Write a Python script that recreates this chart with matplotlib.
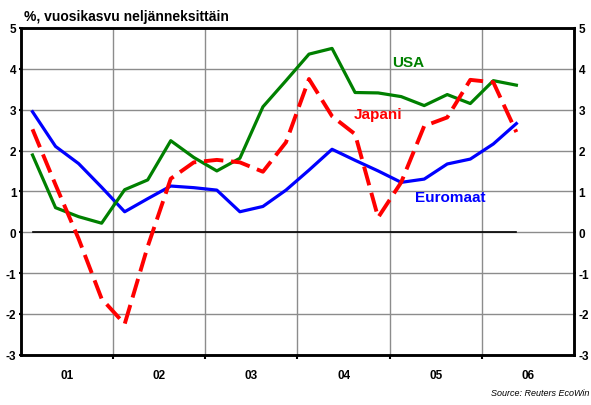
import matplotlib.pyplot as plt
from matplotlib.ticker import FixedLocator, NullFormatter

plt.rcParams['font.family'] = ['Liberation Sans', 'DejaVu Sans']
plt.rcParams['axes.unicode_minus'] = False

# quarterly data, 2001 Q1 .. 2006 Q2
quarters = [2001 + (i + 0.5) / 4 for i in range(22)]
euromaat = [2.95, 2.10, 1.68, 1.10, 0.50, 0.82, 1.13, 1.09, 1.03, 0.50, 0.63, 1.03,
            1.52, 2.03, 1.76, 1.50, 1.22, 1.30, 1.67, 1.79, 2.16, 2.66]
usa = [1.89, 0.60, 0.38, 0.22, 1.04, 1.28, 2.24, 1.83, 1.50, 1.81, 3.07, 3.71,
       4.36, 4.50, 3.42, 3.41, 3.32, 3.10, 3.37, 3.15, 3.71, 3.60]
japani = [2.52, 1.16, -0.16, -1.63, -2.25, -0.35, 1.31, 1.71, 1.77, 1.71, 1.48, 2.20,
          3.75, 2.84, 2.40, 0.36, 1.22, 2.60, 2.81, 3.73, 3.67, 2.45]
year_labels = ['01', '02', '03', '04', '05', '06']
year_bounds = [2002, 2003, 2004, 2005, 2006]

fig = plt.figure(figsize=(5.91, 4.06), dpi=100)
ax = fig.add_axes([0.0355, 0.1239, 0.9357, 0.8047])

ax.set_xlim(2001, 2007)
ax.set_ylim(-3, 5)

ax.grid(True, color='#8c8c8c', linewidth=1.0)
ax.set_axisbelow(True)
ax.plot([quarters[0], quarters[-1]], [0, 0], color='black', linewidth=1.2, zorder=1.5)

ax.plot(quarters, euromaat, color='#0000ff', linewidth=2.3, zorder=3)
ax.plot(quarters, usa, color='#008000', linewidth=2.3, zorder=3)
ax.plot(quarters, japani, color='#ff0000', linewidth=2.8, dashes=(5, 2), zorder=4)

ax.xaxis.set_major_locator(FixedLocator(year_bounds))
ax.xaxis.set_major_formatter(NullFormatter())
ax.xaxis.set_minor_locator(FixedLocator([y + 0.5 for y in range(2001, 2007)]))
ax.set_xticklabels(year_labels, minor=True)
ax.tick_params(axis='x', which='major', direction='out', length=3, width=1.5)
ax.tick_params(axis='x', which='minor', length=0, pad=10)
for lab in ax.get_xticklabels(minor=True):
    lab.set_fontweight('bold')
    lab.set_fontsize(8.5)

ax.set_yticks(range(-3, 6))
ax.tick_params(axis='y', direction='out', length=1.5, width=1.5, labelsize=8.5, pad=1.8)
for lab in ax.get_yticklabels():
    lab.set_fontweight('bold')

ax2 = ax.twinx()
ax2.set_ylim(-3, 5)
ax2.set_yticks(range(-3, 6))
ax2.tick_params(axis='y', direction='out', length=1.5, width=1.5, labelsize=8.5, pad=1.8)
for lab in ax2.get_yticklabels():
    lab.set_fontweight('bold')

for a in (ax, ax2):
    for s in a.spines.values():
        s.set_linewidth(1.8)
        s.set_color('black')

ax.text(2005.2, 4.17, 'USA', color='#008000', fontsize=11, fontweight='bold', ha='center', va='center')
ax.text(2004.87, 2.9, 'Japani', color='#ff0000', fontsize=11, fontweight='bold', ha='center', va='center')
ax.text(2005.66, 0.86, 'Euromaat', color='#0000ff', fontsize=11, fontweight='bold', ha='center', va='center')

fig.text(0.04, 0.975, '%, vuosikasvu neljänneksittäin', fontsize=10, fontweight='bold', ha='left', va='top')
fig.text(0.997, 0.02, 'Source: Reuters EcoWin', fontsize=6.5, style='italic', ha='right', va='bottom')

fig.savefig('out.png', dpi=100)
